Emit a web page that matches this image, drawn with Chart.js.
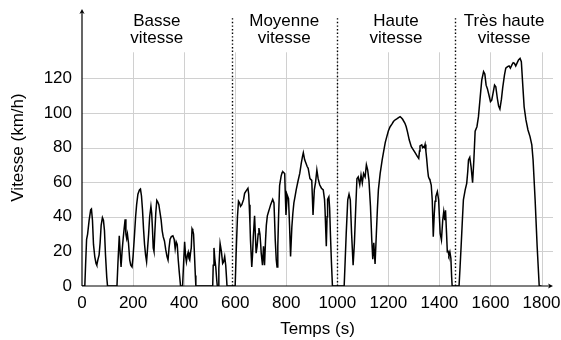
<!DOCTYPE html>
<html>
<head>
<meta charset="utf-8">
<script src="https://cdn.jsdelivr.net/npm/chart.js@4.4.0/dist/chart.umd.min.js"></script>
<style>
  html, body { margin: 0; padding: 0; background: #fff; }
</style>
</head>
<body>
<canvas id="cycle" width="561" height="340"></canvas>
<script>
// WLTC speed trace: time (s) / speed (km/h), one pair of arrays per phase
const tLow = [0,11,14,18,22,28,34,37,41,45, 50,55,58,62,67,71,75,80,84,88,
  92,97,100,137,141,146,150,153,157,161, 165,169,172,175,178,182,187,191,196,200,
  205,210,214,219,225,229,233,237,241,245, 249,253,257,261,265,270,273,276,279,282,
  285,289,293,297,301,305,310,314,318,323, 328,333,337,341,345,350,356,361,365,369,
  373,377,381,386,394,398,402,406,409,413, 416,419,422,425,428,431,434,437,440,444,
  446,512,514,517,520,524,528,530,534,536, 541,546,551,555,559,563,566,568,600];
const vLow = [0,0,12,27,30,38,44,44.5,38,24, 17,13,12,15,18,25,35,39.5,38,32,
  18,5,0,0,14,29,18,11,20,27, 33,38.5,30,27.5,30,25,15,12,11,17,
  28,40,47,53,55.5,56,52,44,33,24, 18,14,22,30,40,46,42,33,22,20,
  30,42,49.5,48.5,47,43,38,32,28.5,26, 21,17,15,22,27,28.5,29,27,21.5,25.5,
  24,15,8,0,0,13,25.5,17,14,18, 19.5,16,15,19,22,33,32,30,20,6,
  0,0,12,22,16,11,3,0,0,10, 24.5,20,13,14,17,12,5,0,0];

const tMid = [604,609,613,617,621,626,633,637,643,650, 653,655,658,660,665,668,671,676,679,682,
  686,690,693,697,700,702,707,711,715,719, 722,726,731,735,739,743,747,752,754,757,
  761,764,767,770,774,780,784,787,794,796, 799,804,809,813,817,822,826,830,835,839,
  846,853,859,864,867,872,877,882,886,893, 900,905,910,915,920,925,931,938,945,950,
  952,957,960,962,967,970,973,977,981,1027];
const vMid = [20,40,49,48,46,47,50,53.5,55,56.5, 53,47,36,26.5,11,18,28.5,40.5,30,19,
  23,30,33.5,30,24,19,12,23,12,26.5, 35,40.5,43,45,47,48.5,50,48,40,26.5,
  15,11,23,40,58,63.5,65.5,66,65,55, 41,52.5,50.5,35,17,34,42,48,52,55.5,
  60.5,65,71,75,77,73,71,69,68,62, 61,41,55.5,60,67,62,58.5,56.5,55.5,50,
  44,23,40,50,51.5,45,30.5,14,0,0];

const tHigh = [1031,1035,1041,1046,1051,1056,1062,1067,1072,1077, 1082,1088,1093,1098,1103,1109,1114,1119,1124,1130,
  1135,1139,1143,1148,1153,1157,1161,1168,1176,1182, 1188,1194,1200,1207,1214,1220,1227,1233,1240,1246,
  1251,1256,1265,1270,1275,1282,1290,1298,1306,1314, 1319,1322,1324,1331,1334,1337,1341,1344,1347,1350,
  1354,1357,1360,1363,1368,1372,1376,1380,1383,1386, 1392,1397,1400,1403,1408,1413,1417,1421,1424,1428,
  1431,1434,1437,1441,1445,1448,1450,1477];
const vHigh = [15,30.4,49.7,53,49.7,30.4,12,24.6,44,62, 63,58.5,64,59.5,65,63,70,67,61,46,
  27,15.5,25,12.7,30,44,55.5,65,73,78, 83,86.3,89.5,92,93.5,95,96,96.5,97.3,97.8,
  97.2,96.3,94,92,89,84.3,80.5,78.6,76.7,74.7, 73.7,78,80.9,81.5,80,80.5,80,81.8,78,73.7,
  67,63.2,62,61.2,58.3,49.7,28.5,42,49,51.6, 54.5,49.7,40,30.4,26.6,38,43,38,43.7,30.4,
  19.8,20,17.9,19.8,16,5,0,0];

const tExtra = [1481,1485,1490,1494,1501,1507,1511,1514,1519,1524, 1530,1535,1540,1547,1553,1560,1566,1573,1578,1583,
  1588,1594,1600,1605,1610,1616,1621,1627,1632,1637, 1643,1648,1655,1660,1667,1673,1678,1684,1689,1694,
  1699,1705,1710,1716,1721,1727,1732,1739,1747,1755, 1762,1767,1775,1783,1791,1800];
const vExtra = [11,22.7,38,49.7,55.5,59.3,66,72.8,74.3,69, 59.7,72.8,89.4,92,97.8,109.4,119,123.8,122.4,116,
  114,110.3,106.5,107.4,111.3,116,115,108.3,104,102.2, 107.9,114.6,121.9,125.8,126.7,127.1,125.8,127.7,129,128.6,
  127.1,129,130.6,131.5,129.6,115,103.4,95.9,90.1,86.3, 81.5,72.8,49.7,22.7,0,0];

const xTicks = [0, 200, 400, 600, 800, 1000, 1200, 1400, 1600, 1800];
const yTicks = [0, 20, 40, 60, 80, 100, 120];
const phaseEdges = [586, 998, 1462];
const phaseNames = [['Basse', 'vitesse'], ['Moyenne', 'vitesse'], ['Haute', 'vitesse'], ['Très haute', 'vitesse']];
const xMax = 1845, yMax = 160;
const gridTop = 135, sepTop = 155;

const times = [...tLow, ...tMid, ...tHigh, ...tExtra];
const speeds = [...vLow, ...vMid, ...vHigh, ...vExtra];
const points = times.map((t, i) => ({ x: t, y: speeds[i] }));

const FONT = 'Liberation Sans';
const SIZE = 17;

const decor = {
  id: 'decor',
  beforeDatasetsDraw(chart) {
    const { ctx, scales: { x, y } } = chart;
    const seg = (x1, y1, x2, y2) => { ctx.beginPath(); ctx.moveTo(x1, y1); ctx.lineTo(x2, y2); ctx.stroke(); };
    ctx.save();
    // light grid, stopped below the phase titles
    ctx.strokeStyle = '#d0d0d0';
    ctx.lineWidth = 1;
    yTicks.slice(1).forEach(v => {
      const py = Math.round(y.getPixelForValue(v)) + 0.5;
      seg(x.getPixelForValue(0), py, x.getPixelForValue(xMax), py);
    });
    xTicks.slice(1).forEach(v => {
      const px = Math.round(x.getPixelForValue(v)) + 0.5;
      seg(px, y.getPixelForValue(0), px, y.getPixelForValue(gridTop));
    });
    // dotted phase separators
    ctx.strokeStyle = '#000';
    ctx.lineWidth = 1.4;
    ctx.setLineDash([1.4, 2.2]);
    phaseEdges.forEach(v => {
      const px = Math.round(x.getPixelForValue(v)) + 0.5;
      seg(px, y.getPixelForValue(0), px, y.getPixelForValue(sepTop));
    });
    ctx.restore();
  },
  afterDatasetsDraw(chart) {
    const { ctx, scales: { x, y } } = chart;
    const x0 = x.getPixelForValue(0), y0 = y.getPixelForValue(0);
    const xEnd = x.getPixelForValue(xMax), yEnd = y.getPixelForValue(yMax);
    ctx.save();
    ctx.strokeStyle = '#000';
    ctx.fillStyle = '#000';
    ctx.lineWidth = 1.2;
    ctx.beginPath();
    ctx.moveTo(x0, y0); ctx.lineTo(xEnd - 2, y0);
    ctx.moveTo(x0, y0); ctx.lineTo(x0, yEnd + 2);
    ctx.stroke();
    // arrow heads
    ctx.beginPath();
    ctx.moveTo(xEnd, y0); ctx.lineTo(xEnd - 5, y0 - 2.6); ctx.lineTo(xEnd - 3.6, y0); ctx.lineTo(xEnd - 5, y0 + 2.6); ctx.closePath();
    ctx.moveTo(x0, yEnd); ctx.lineTo(x0 - 2.6, yEnd + 5); ctx.lineTo(x0, yEnd + 3.6); ctx.lineTo(x0 + 2.6, yEnd + 5); ctx.closePath();
    ctx.fill();
    // phase titles, centred between separators
    const edges = [0, ...phaseEdges, xMax];
    ctx.font = SIZE + 'px "' + FONT + '"';
    ctx.textAlign = 'center';
    ctx.textBaseline = 'middle';
    phaseNames.forEach((lines, i) => {
      const cx = x.getPixelForValue((edges[i] + edges[i + 1]) / 2);
      lines.forEach((txt, j) => ctx.fillText(txt, cx, chart.chartArea.top + 12 + j * 17));
    });
    ctx.restore();
  }
};

new Chart(document.getElementById('cycle'), {
  type: 'line',
  data: {
    datasets: [{
      data: points,
      borderColor: '#000',
      borderWidth: 1.5,
      pointRadius: 0,
      tension: 0,
      fill: false
    }]
  },
  options: {
    responsive: false,
    animation: false,
    devicePixelRatio: 1,
    layout: { padding: { top: 9, right: 8, left: 0, bottom: 0 } },
    plugins: { legend: { display: false }, tooltip: { enabled: false } },
    scales: {
      x: {
        type: 'linear',
        min: 0,
        max: xMax,
        afterBuildTicks: s => { s.ticks = xTicks.map(v => ({ value: v })); },
        afterFit: s => { s.height = 54; s.paddingLeft = 0; s.paddingRight = 0; },
        grid: { display: false, drawTicks: false },
        border: { display: false },
        ticks: { color: '#000', padding: 7, maxRotation: 0, autoSkip: false,
                 callback: v => String(v), font: { family: FONT, size: SIZE } },
        title: { display: true, text: 'Temps (s)', color: '#000', padding: { top: 0, bottom: 0 }, font: { family: FONT, size: SIZE } }
      },
      y: {
        type: 'linear',
        min: 0,
        max: yMax,
        afterBuildTicks: s => { s.ticks = yTicks.map(v => ({ value: v })); },
        afterFit: s => { s.width = 82; s.paddingTop = 0; s.paddingBottom = 0; },
        grid: { display: false, drawTicks: false },
        border: { display: false },
        ticks: { color: '#000', padding: 10, callback: v => String(v), font: { family: FONT, size: SIZE } },
        title: { display: true, text: 'Vitesse (km/h)', color: '#000', padding: { top: 8, bottom: 0 }, font: { family: FONT, size: SIZE } }
      }
    }
  },
  plugins: [decor]
});
</script>
</body>
</html>
